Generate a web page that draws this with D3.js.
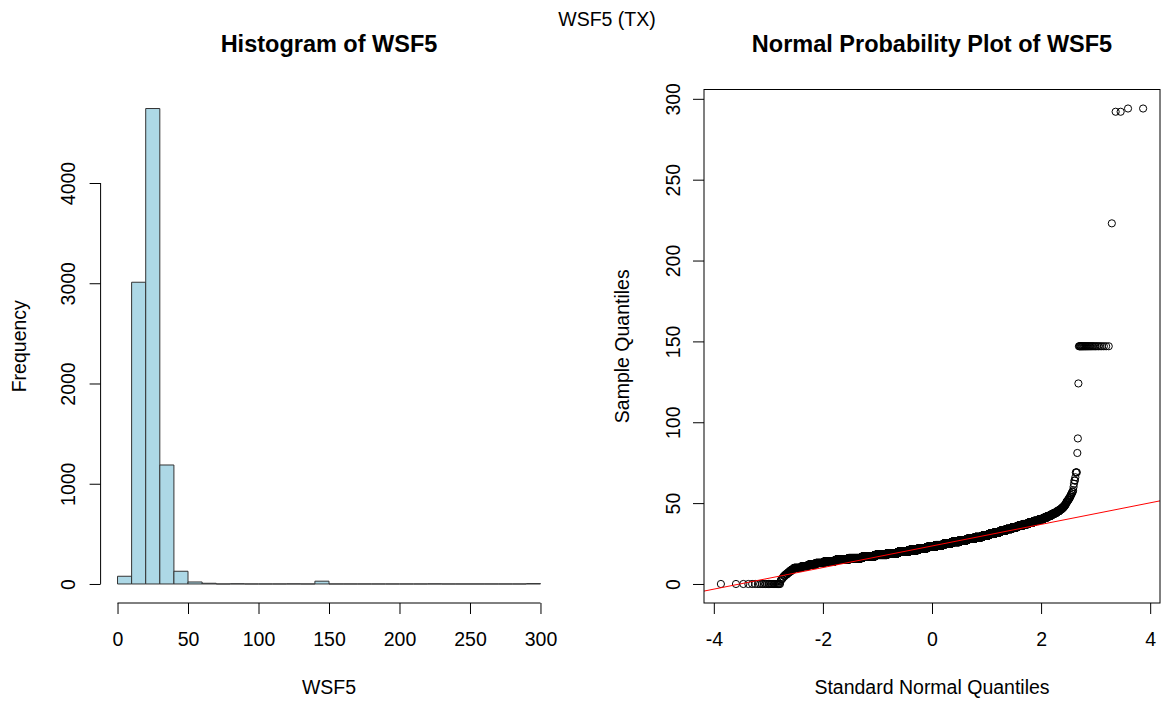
<!DOCTYPE html>
<html>
<head>
<meta charset="utf-8">
<script src="https://cdn.jsdelivr.net/npm/d3@7"></script>
<style>
  body { margin: 0; background: #fff; }
  svg text { font-family: "Liberation Sans", Arial, sans-serif; fill: #000; }
</style>
</head>
<body>
<svg id="chart" width="1163" height="701"></svg>
<script>
// Histogram: bins of width 10 from 0 to 300 (right-closed, like R's hist)
const binEdges = d3.range(0, 301, 10);
const histCounts = [77, 3010, 4743, 1187, 127, 20, 7, 0, 2, 0,
                    0, 0, 1, 0, 28, 0, 0, 0, 0, 0,
                    0, 0, 1, 0, 0, 0, 0, 0, 0, 4];
const histXTicks = [0, 50, 100, 150, 200, 250, 300];
const histYTicks = [0, 1000, 2000, 3000, 4000];

// WSF5 sample as a frequency table (value -> number of days)
const wsfValues = [0, 2, 3, 4, 5, 6, 7, 8, 9, 10,
                   11, 12, 13, 14, 15, 16, 17, 18, 19, 20,
                   21, 22, 23, 24, 25, 26, 27, 28, 29, 30,
                   31, 32, 33, 34, 35, 36, 37, 38, 39, 40,
                   41, 42, 43, 44, 45, 46, 47, 48, 49, 50,
                   51, 52, 53, 54, 55, 56, 57, 58, 60,
                   62, 64, 66, 69, 81, 90, 124, 147, 223, 292, 294];
const wsfCounts = [25, 1, 2, 2, 3, 4, 4, 5, 6, 25,
                   30, 45, 70, 130, 230, 340, 440, 520, 590, 615,
                   600, 590, 570, 540, 510, 480, 450, 400, 340, 263,
                   220, 190, 165, 140, 120, 100, 85, 70, 55, 42,
                   30, 24, 19, 15, 12, 9, 7, 5, 4, 2,
                   4, 3, 3, 2, 2, 2, 2, 1, 1,
                   1, 2, 1, 3, 1, 1, 1, 28, 1, 2, 2];
const qqXTicks = [-4, -2, 0, 2, 4];
const qqYTicks = [0, 50, 100, 150, 200, 250, 300];

const fontSize = 19.5;
const plotTop = 89.5, plotBottom = 603;
const histLeft = 100.6, histRight = 557.4;
const qqLeft = 704, qqRight = 1160;

const svg = d3.select("#chart");

// R style axis limits: data range extended by 4% each side
function padded(lo, hi) {
  const d = (hi - lo) * 0.04;
  return [lo - d, hi + d];
}

// inverse normal cdf (Acklam)
function qnorm(p) {
  const a = [-3.969683028665376e+01, 2.209460984245205e+02, -2.759285104469687e+02, 1.383577518672690e+02, -3.066479806614716e+01, 2.506628277459239e+00];
  const b = [-5.447609879822406e+01, 1.615858368580409e+02, -1.556989798598866e+02, 6.680131188771972e+01, -1.328068155288572e+01];
  const c = [-7.784894002430293e-03, -3.223964580411365e-01, -2.400758277161838e+00, -2.549732539343734e+00, 4.374664141464968e+00, 2.938163982698783e+00];
  const d = [7.784695709041462e-03, 3.224671290700398e-01, 2.445134137142996e+00, 3.754408661907416e+00];
  const pl = 0.02425;
  let q, r;
  if (p < pl) {
    q = Math.sqrt(-2 * Math.log(p));
    return (((((c[0]*q+c[1])*q+c[2])*q+c[3])*q+c[4])*q+c[5]) / ((((d[0]*q+d[1])*q+d[2])*q+d[3])*q+1);
  }
  if (p > 1 - pl) {
    q = Math.sqrt(-2 * Math.log(1 - p));
    return -(((((c[0]*q+c[1])*q+c[2])*q+c[3])*q+c[4])*q+c[5]) / ((((d[0]*q+d[1])*q+d[2])*q+d[3])*q+1);
  }
  q = p - 0.5; r = q * q;
  return (((((a[0]*r+a[1])*r+a[2])*r+a[3])*r+a[4])*r+a[5])*q / (((((b[0]*r+b[1])*r+b[2])*r+b[3])*r+b[4])*r+1);
}

function styleAxis(g) {
  g.attr("font-size", fontSize).attr("font-family", null);
  g.selectAll(".tick line").attr("stroke", "#000");
  g.selectAll(".domain").remove();
}

// outer title
svg.append("text")
  .attr("x", 607).attr("y", 26)
  .attr("text-anchor", "middle")
  .attr("font-size", fontSize)
  .text("WSF5 (TX)");

// ---------- Histogram ----------
const histX = d3.scaleLinear()
  .domain(padded(binEdges[0], binEdges[binEdges.length - 1]))
  .range([histLeft, histRight]);
const histY = d3.scaleLinear()
  .domain(padded(0, d3.max(histCounts)))
  .range([plotBottom, plotTop]);

const hist = svg.append("g");

hist.selectAll("path.bar")
  .data(histCounts)
  .enter()
  .append("path")
  .attr("class", "bar")
  .attr("d", (d, i) => {
    const x0 = histX(binEdges[i]), x1 = histX(binEdges[i + 1]);
    const y0 = histY(0), y1 = histY(d);
    return `M${x0},${y0}H${x1}V${y1}H${x0}Z`;
  })
  .attr("fill", "#ADD8E6")
  .attr("stroke", "#333")
  .attr("stroke-width", 1);

const hxAxis = hist.append("g")
  .attr("transform", `translate(0,${plotBottom})`)
  .call(d3.axisBottom(histX).tickValues(histXTicks).tickSize(11).tickFormat(d => String(d)))
  .call(styleAxis);
hxAxis.selectAll(".tick text").attr("y", 43).attr("dy", null);
hxAxis.append("line")
  .attr("x1", histX(histXTicks[0])).attr("x2", histX(histXTicks[histXTicks.length - 1]))
  .attr("stroke", "#000");

const hyAxis = hist.append("g")
  .attr("transform", `translate(${histLeft},0)`)
  .call(d3.axisLeft(histY).tickValues(histYTicks).tickSize(11).tickFormat(d => String(d)))
  .call(styleAxis);
hyAxis.selectAll(".tick text")
  .attr("x", null).attr("dy", null)
  .attr("text-anchor", "middle")
  .attr("transform", "translate(-26,0) rotate(-90)");
hyAxis.append("line")
  .attr("y1", histY(histYTicks[0])).attr("y2", histY(histYTicks[histYTicks.length - 1]))
  .attr("stroke", "#000");

hist.append("text")
  .attr("x", (histLeft + histRight) / 2).attr("y", 52)
  .attr("text-anchor", "middle")
  .attr("font-size", 23.5).attr("font-weight", "bold")
  .text("Histogram of WSF5");
hist.append("text")
  .attr("x", (histLeft + histRight) / 2).attr("y", 694)
  .attr("text-anchor", "middle")
  .attr("font-size", fontSize)
  .text("WSF5");
hist.append("text")
  .attr("transform", `translate(26,${(plotTop + plotBottom) / 2}) rotate(-90)`)
  .attr("text-anchor", "middle")
  .attr("font-size", fontSize)
  .text("Frequency");

// ---------- Normal probability plot ----------
const sample = wsfValues.flatMap((v, i) => d3.range(wsfCounts[i]).map(() => v));
const n = sample.length;
const qqData = sample.map((v, i) => ({ z: qnorm((i + 0.5) / n), v: v }));

const qqX = d3.scaleLinear()
  .domain(padded(qqData[0].z, qqData[n - 1].z))
  .range([qqLeft, qqRight]);
const qqY = d3.scaleLinear()
  .domain(padded(d3.min(sample), d3.max(sample)))
  .range([plotBottom, plotTop]);

const qq = svg.append("g");

qq.append("clipPath").attr("id", "qqclip")
  .append("rect")
  .attr("x", qqLeft).attr("y", plotTop)
  .attr("width", qqRight - qqLeft).attr("height", plotBottom - plotTop);

qq.append("g")
  .selectAll("circle")
  .data(qqData)
  .enter()
  .append("circle")
  .attr("cx", d => qqX(d.z))
  .attr("cy", d => qqY(d.v))
  .attr("r", 3.6)
  .attr("fill", "none")
  .attr("stroke", "#000")
  .attr("stroke-width", 1);

// qqline through the quartiles
const q1 = d3.quantile(sample, 0.25), q3 = d3.quantile(sample, 0.75);
const z1 = qnorm(0.25), z3 = qnorm(0.75);
const slope = (q3 - q1) / (z3 - z1);
const intercept = q1 - slope * z1;
const xd = qqX.domain();
qq.append("line")
  .attr("clip-path", "url(#qqclip)")
  .attr("x1", qqX(xd[0])).attr("y1", qqY(intercept + slope * xd[0]))
  .attr("x2", qqX(xd[1])).attr("y2", qqY(intercept + slope * xd[1]))
  .attr("stroke", "red")
  .attr("stroke-width", 1);

qq.append("rect")
  .attr("x", qqLeft).attr("y", plotTop)
  .attr("width", qqRight - qqLeft).attr("height", plotBottom - plotTop)
  .attr("fill", "none")
  .attr("stroke", "#000");

const qxAxis = qq.append("g")
  .attr("transform", `translate(0,${plotBottom})`)
  .call(d3.axisBottom(qqX).tickValues(qqXTicks).tickSize(11).tickFormat(d => String(d)))
  .call(styleAxis);
qxAxis.selectAll(".tick text").attr("y", 43).attr("dy", null);

const qyAxis = qq.append("g")
  .attr("transform", `translate(${qqLeft},0)`)
  .call(d3.axisLeft(qqY).tickValues(qqYTicks).tickSize(11).tickFormat(d => String(d)))
  .call(styleAxis);
qyAxis.selectAll(".tick text")
  .attr("x", null).attr("dy", null)
  .attr("text-anchor", "middle")
  .attr("transform", "translate(-24,0) rotate(-90)");

qq.append("text")
  .attr("x", (qqLeft + qqRight) / 2).attr("y", 52)
  .attr("text-anchor", "middle")
  .attr("font-size", 23.5).attr("font-weight", "bold")
  .text("Normal Probability Plot of WSF5");
qq.append("text")
  .attr("x", (qqLeft + qqRight) / 2).attr("y", 694)
  .attr("text-anchor", "middle")
  .attr("font-size", fontSize)
  .text("Standard Normal Quantiles");
qq.append("text")
  .attr("transform", `translate(629,${(plotTop + plotBottom) / 2}) rotate(-90)`)
  .attr("text-anchor", "middle")
  .attr("font-size", fontSize)
  .text("Sample Quantiles");
</script>
</body>
</html>
